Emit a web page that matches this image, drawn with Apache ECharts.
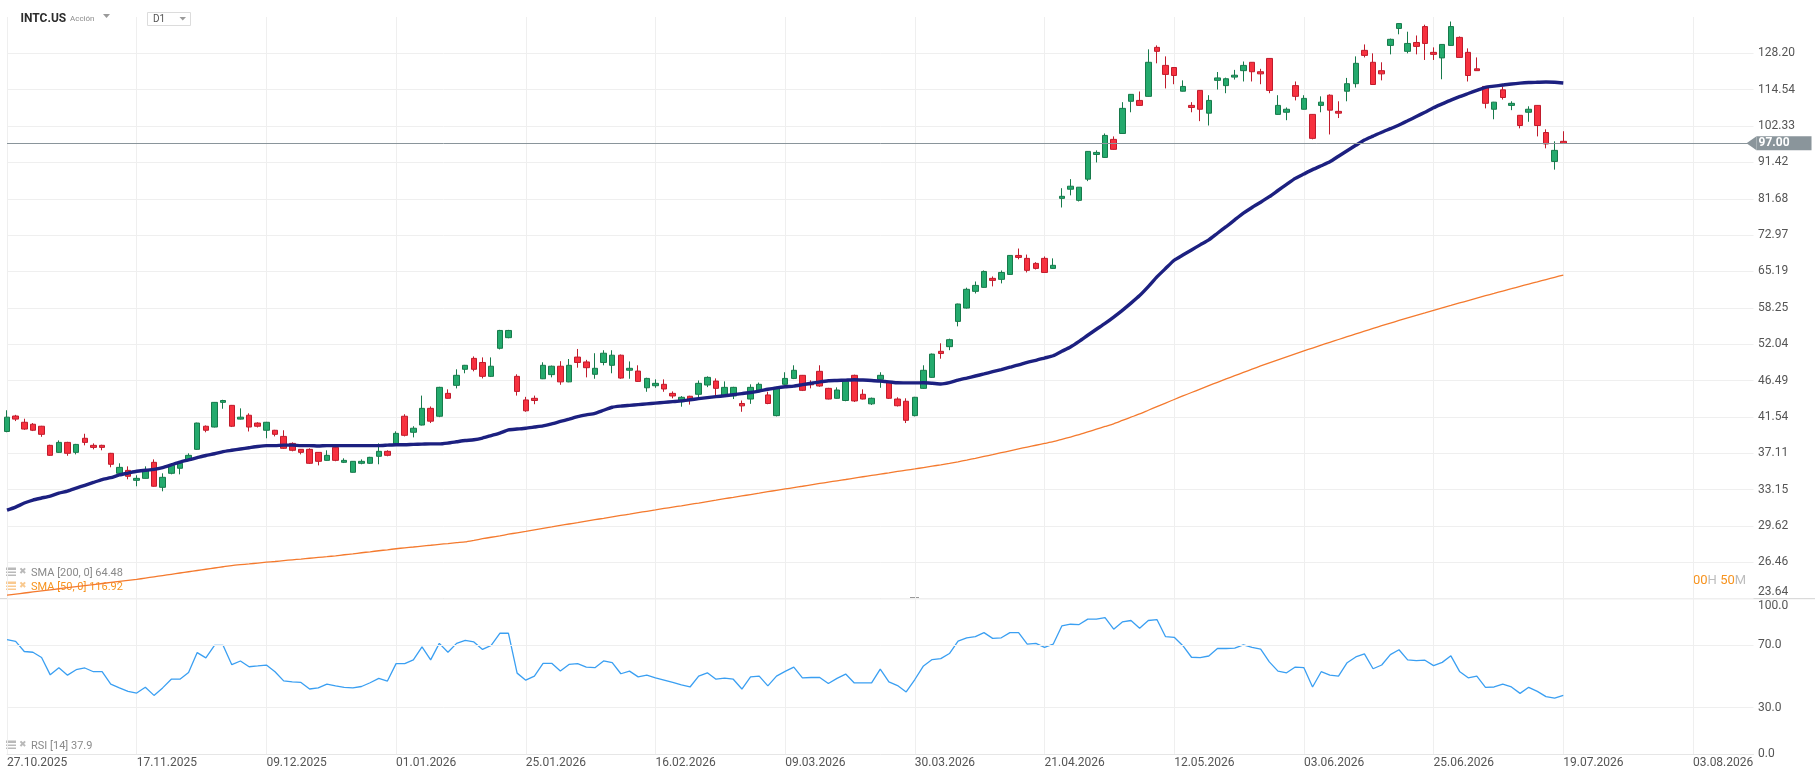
<!DOCTYPE html>
<html>
<head>
<meta charset="utf-8">
<title>INTC.US D1</title>
<script src="https://cdn.jsdelivr.net/npm/echarts@6/dist/echarts.min.js"></script>
<style>
  html, body { margin: 0; padding: 0; background: #fff; }
  #chart { width: 1818px; height: 779px; }
</style>
</head>
<body>
<div id="chart"></div>
<script>
// --- labels ---
const DATE_LABELS = ['27.10.2025', '17.11.2025', '09.12.2025', '01.01.2026', '25.01.2026', '16.02.2026', '09.03.2026',
  '30.03.2026', '21.04.2026', '12.05.2026', '03.06.2026', '25.06.2026', '19.07.2026', '03.08.2026'];
const PRICE_TICKS = ['23.64', '26.46', '29.62', '33.15', '37.11', '41.54', '46.49', '52.04', '58.25', '65.19',
  '72.97', '81.68', '91.42', '102.33', '114.54', '128.20'];
const RSI_TICKS = [0, 30, 70, 100];
const LAST_PRICE = 97.00;

// --- daily candles (one per bar) ---
const OPEN = [
  39.7, 41.65, 40.85, 40.6, 40.35, 38.03, 37.21, 38.38, 37.21, 38.87,
  38.03, 38.03, 37.1, 34.87, 35.19, 34.12, 34.33, 36.08, 33.39, 34.87,
  35.42, 36.3, 37.56, 40.35, 40.25, 43.45, 43.05, 41.25, 41.75, 40.75,
  39.85, 39.85, 39.1, 38.26, 37.56, 37.56, 37.21, 36.3, 37.79, 36.08,
  34.98, 35.97, 35.97, 36.76, 37.33, 38.03, 41.62, 39.6, 40.5, 42.65,
  41.62, 44.68, 45.8, 48.14, 49.8, 49.17, 47.1, 51.38, 53.1, 47.1,
  43.78, 44.0, 46.75, 47.35, 48.6, 46.3, 50.0, 49.25, 47.4, 49.17,
  48.74, 50.29, 48.0, 47.88, 45.46, 45.75, 45.95, 44.68, 43.55, 44.28,
  44.55, 45.85, 46.42, 44.32, 44.32, 43.3, 43.9, 45.15, 44.46, 41.7,
  45.95, 46.8, 47.25, 46.2, 47.84, 45.38, 44.0, 43.7, 47.25, 44.55,
  43.25, 46.66, 46.3, 43.9, 43.6, 41.7, 45.38, 46.95, 50.9, 51.64,
  55.85, 58.2, 61.3, 62.06, 63.82, 63.62, 64.6, 68.52, 67.9, 66.85,
  67.9, 65.82, 81.78, 84.13, 81.28, 86.8, 93.7, 92.85, 98.19, 100.0,
  110.5, 110.8, 112.2, 130.6, 123.5, 122.7, 114.0, 109.1, 114.3, 106.5,
  117.9, 116.0, 119.1, 121.5, 124.7, 121.1, 126.2, 106.1, 106.8, 116.0,
  107.8, 106.1, 109.1, 112.6, 107.1, 114.0, 116.7, 129.4, 124.7, 121.5,
  131.4, 138.5, 129.0, 132.6, 139.3, 128.6, 126.4, 131.4, 134.7, 128.6,
  122.2, 115.7, 107.8, 114.5, 109.1, 105.8, 106.8, 109.1, 100.3, 91.7,
  97.6
];
const CLOSE = [
  41.5, 41.25, 40.0, 39.85, 39.35, 36.87, 38.38, 37.1, 38.14, 38.38,
  37.79, 37.79, 35.86, 35.52, 34.55, 34.33, 35.19, 33.5, 34.44, 35.74,
  35.97, 36.87, 40.75, 39.85, 43.45, 43.7, 40.35, 41.5, 40.25, 40.35,
  40.85, 39.35, 37.68, 37.45, 37.21, 35.97, 36.19, 36.87, 36.3, 36.3,
  36.19, 36.19, 36.64, 37.33, 36.87, 39.47, 39.23, 40.1, 42.65, 40.99,
  45.52, 44.0, 47.25, 48.74, 48.14, 47.1, 48.6, 54.3, 54.3, 44.95,
  42.33, 43.7, 48.74, 48.6, 46.3, 48.74, 49.17, 48.38, 48.29, 50.6,
  50.29, 46.85, 48.29, 46.37, 46.8, 46.09, 45.29, 44.32, 44.14, 43.7,
  46.09, 46.95, 45.38, 45.52, 45.52, 42.98, 45.52, 45.95, 43.3, 45.52,
  46.8, 47.99, 45.1, 45.88, 45.71, 43.9, 45.15, 46.37, 43.64, 43.9,
  44.0, 47.25, 44.0, 43.0, 41.1, 44.14, 47.99, 50.46, 50.55, 52.77,
  58.94, 61.69, 62.44, 65.2, 63.42, 65.0, 68.52, 68.1, 65.42, 65.82,
  65.0, 66.45, 82.3, 84.92, 84.66, 94.6, 94.3, 99.4, 95.2, 108.1,
  112.9, 109.1, 124.7, 129.0, 120.1, 119.7, 115.7, 108.4, 107.8, 110.8,
  118.8, 118.5, 119.8, 123.5, 121.1, 120.3, 114.3, 109.1, 107.8, 112.2,
  111.5, 98.5, 110.2, 107.5, 106.5, 116.7, 124.3, 127.4, 116.4, 120.3,
  133.9, 140.6, 132.2, 131.0, 132.2, 127.8, 131.8, 139.3, 126.6, 119.7,
  121.5, 109.8, 110.2, 111.8, 109.8, 102.5, 107.8, 102.5, 96.8, 94.9,
  97.0
];
const LOW = [
  39.6, 41.0, 39.9, 39.75, 39.05, 36.8, 37.15, 36.82, 36.98, 38.03,
  37.56, 37.45, 35.53, 34.8, 34.23, 33.5, 34.3, 33.45, 32.98, 34.76,
  34.76, 36.25, 37.5, 39.6, 40.2, 42.6, 40.25, 41.2, 39.7, 40.2,
  38.87, 39.1, 37.6, 37.33, 36.98, 35.9, 35.74, 36.25, 36.2, 36.0,
  34.95, 35.86, 35.9, 35.86, 36.76, 37.95, 39.1, 38.98, 40.45, 40.75,
  41.5, 43.95, 45.37, 47.55, 47.84, 46.8, 47.0, 51.2, 53.0, 44.37,
  42.2, 43.2, 46.7, 46.95, 45.88, 46.25, 48.38, 46.95, 46.75, 48.74,
  47.55, 46.75, 46.75, 46.3, 44.9, 45.46, 44.9, 44.0, 42.87, 43.15,
  43.85, 45.55, 44.28, 44.2, 43.9, 42.2, 43.25, 45.1, 43.2, 41.6,
  45.9, 46.7, 45.0, 45.38, 45.6, 43.85, 43.95, 43.6, 43.5, 43.85,
  43.1, 45.46, 43.9, 42.9, 40.75, 41.6, 45.3, 46.9, 49.75, 51.08,
  55.0, 58.1, 60.9, 62.0, 62.25, 62.83, 64.5, 67.7, 65.0, 65.6,
  64.95, 65.75, 79.5, 82.55, 81.0, 86.27, 91.42, 92.7, 95.1, 99.9,
  106.8, 109.0, 112.1, 124.3, 115.0, 116.5, 113.9, 106.8, 103.9, 102.5,
  114.6, 113.3, 118.2, 117.5, 117.5, 116.5, 113.3, 106.0, 104.2, 110.8,
  107.7, 98.2, 106.8, 99.7, 104.9, 110.5, 115.3, 126.6, 116.3, 117.9,
  127.8, 136.0, 128.2, 127.8, 125.6, 125.6, 118.3, 131.3, 126.5, 117.5,
  121.4, 108.1, 104.5, 111.1, 107.5, 101.6, 103.7, 99.1, 95.5, 89.4,
  96.9
];
const HIGH = [
  42.4, 41.8, 41.3, 40.75, 40.4, 38.1, 38.62, 38.45, 38.2, 39.42,
  38.26, 38.1, 37.15, 35.97, 35.63, 34.66, 35.63, 36.41, 34.87, 35.8,
  36.0, 37.1, 40.8, 40.45, 43.5, 43.8, 43.1, 42.65, 42.0, 40.85,
  40.9, 39.9, 39.85, 38.38, 37.6, 37.68, 37.25, 37.45, 38.03, 36.53,
  36.2, 36.41, 36.7, 38.26, 37.45, 39.72, 41.88, 40.35, 44.37, 42.9,
  45.6, 45.24, 48.14, 48.8, 50.1, 49.95, 49.95, 54.4, 54.4, 47.4,
  44.2, 44.37, 49.2, 48.7, 49.37, 49.7, 51.27, 49.57, 50.6, 51.07,
  51.07, 50.4, 49.33, 48.74, 46.9, 46.66, 46.66, 44.95, 44.3, 44.35,
  46.5, 47.1, 46.8, 46.37, 45.6, 43.7, 45.95, 46.2, 44.9, 45.6,
  47.7, 48.74, 47.3, 46.52, 48.74, 45.45, 45.52, 46.45, 47.35, 45.24,
  44.1, 47.7, 46.4, 44.14, 44.0, 44.2, 48.74, 50.55, 52.18, 52.94,
  59.0, 62.0, 63.2, 65.4, 64.2, 65.4, 68.6, 70.0, 68.7, 67.1,
  68.3, 67.9, 84.4, 86.8, 84.7, 94.7, 94.9, 100.0, 99.1, 110.2,
  113.0, 113.9, 129.8, 131.4, 127.0, 122.9, 117.9, 110.2, 114.4, 112.6,
  121.0, 118.9, 121.8, 125.0, 124.8, 122.2, 126.3, 112.6, 108.4, 117.5,
  112.6, 106.2, 112.2, 112.9, 110.5, 118.8, 127.0, 131.8, 128.2, 124.7,
  134.2, 140.8, 137.1, 135.5, 140.1, 130.6, 131.9, 141.5, 135.1, 130.2,
  126.6, 115.8, 110.3, 115.7, 110.5, 105.9, 108.8, 109.2, 101.3, 97.6,
  100.7
];

// --- indicators ---
const SMA_50 = [
  31.1, 31.4, 31.8, 32.1, 32.3, 32.5, 32.8, 33.0, 33.3, 33.6, 33.9,
  34.2, 34.4, 34.7, 34.9, 35.1, 35.2, 35.3, 35.5, 35.8, 36.1,
  36.35, 36.6, 36.85, 37.05, 37.3, 37.45, 37.6, 37.75, 37.9, 38.0,
  38.0, 38.05, 38.05, 38.0, 38.0, 37.95, 38.0, 38.0, 38.0, 38.0, 38.0, 38.0, 38.0, 38.05, 38.1,
  38.1, 38.15, 38.17, 38.2, 38.2, 38.3, 38.45, 38.6, 38.7, 38.9, 39.2, 39.5, 39.9, 40.0,
  40.1, 40.25, 40.4, 40.65, 40.95, 41.25, 41.57, 41.8, 42.0, 42.4, 42.8, 42.95, 43.05, 43.15, 43.25,
  43.35, 43.45, 43.55, 43.65, 43.8, 43.95, 44.1, 44.23, 44.35, 44.5, 44.65, 44.8, 45.0, 45.25, 45.45, 45.6,
  45.7, 45.9, 46.1, 46.3, 46.46, 46.5, 46.55, 46.6, 46.56, 46.5, 46.4, 46.3, 46.17, 46.15, 46.15, 46.17, 46.1, 46.0, 46.2, 46.56,
  46.85, 47.15, 47.45, 47.78, 48.1, 48.45, 48.8, 49.2, 49.5, 49.85, 50.2, 50.9, 51.6, 52.5, 53.5,
  54.5, 55.5, 56.6, 57.8, 59.1, 60.5, 62.2, 64.1, 65.8, 67.5, 68.6, 69.7, 70.8, 71.9, 73.4,
  74.9, 76.5, 78.1, 79.5, 80.8, 82.2, 83.8, 85.4, 87.0, 88.2, 89.4, 90.5, 91.6, 93.2, 94.8, 96.4, 98.0, 99.2, 100.4, 101.5,
  102.65, 104.0, 105.4, 106.8, 108.3, 109.6, 110.9, 112.1, 113.2, 114.3, 115.4, 115.8, 116.2, 116.6, 116.9, 117.1, 117.2, 117.3, 117.2, 116.92
];
const SMA_200 = [
  23.9, 23.98, 24.06, 24.14, 24.22, 24.3, 24.38, 24.46, 24.54, 24.62, 24.7, 24.78, 24.86, 24.94, 25.02, 25.1,
  25.2, 25.3, 25.4, 25.5, 25.6, 25.7, 25.8, 25.9, 26.0, 26.1, 26.2,
  26.27, 26.33, 26.4, 26.47, 26.53, 26.6, 26.67, 26.73, 26.8, 26.87, 26.93, 27.0,
  27.09, 27.17, 27.26, 27.34, 27.43, 27.51, 27.6,
  27.68, 27.75, 27.83, 27.9, 27.98, 28.05, 28.13, 28.2,
  28.33, 28.47, 28.6, 28.73, 28.87, 29.0, 29.13, 29.27, 29.4, 29.53, 29.67, 29.8, 29.93, 30.07,
  30.2, 30.33, 30.47, 30.6, 30.73, 30.87, 31.0, 31.13, 31.27, 31.4, 31.53, 31.67, 31.8,
  31.94, 32.08, 32.23, 32.37, 32.51, 32.65, 32.79, 32.94, 33.08, 33.22, 33.36, 33.5, 33.65,
  33.79, 33.93, 34.07, 34.21, 34.36, 34.5, 34.64, 34.78, 34.92, 35.07, 35.21, 35.35, 35.5,
  35.65, 35.8, 35.96, 36.14, 36.33, 36.53, 36.74, 36.95, 37.17, 37.39, 37.61, 37.83, 38.04, 38.25, 38.46,
  38.74, 39.02, 39.3, 39.64, 39.98, 40.32, 40.66, 41.08, 41.5, 41.92,
  42.4, 42.88, 43.36, 43.84, 44.32, 44.8, 45.28, 45.76, 46.24, 46.72, 47.2, 47.68, 48.16, 48.64, 49.12,
  49.58, 50.04, 50.5, 50.96, 51.42, 51.88, 52.34, 52.8, 53.26, 53.72, 54.18, 54.64, 55.1, 55.56,
  56.01, 56.45, 56.9, 57.34, 57.79, 58.24, 58.68, 59.13, 59.57, 60.02, 60.47, 60.91, 61.36, 61.8, 62.25, 62.7, 63.14, 63.59, 64.03, 64.48
];
const RSI_14 = [
  73.7, 72.6, 66.1, 65.6, 62.2, 51.1, 55.7, 50.9, 54.4, 55.5,
  53.1, 53.1, 45.1, 42.7, 40.5, 39.4, 43.1, 37.9, 42.7, 48.3,
  48.3, 52.6, 65.4, 62.0, 70.0, 70.0, 57.6, 60.0, 56.3, 56.8,
  57.4, 53.1, 47.2, 46.6, 46.2, 42.0, 42.7, 45.1, 44.0, 43.1,
  42.7, 43.6, 46.0, 48.8, 47.1, 58.3, 58.3, 60.7, 69.1, 60.7,
  71.3, 65.6, 71.3, 73.2, 72.2, 67.4, 70.0, 77.8, 77.8, 52.2,
  47.7, 50.3, 58.5, 58.5, 53.5, 57.8, 58.3, 56.1, 55.7, 60.0,
  58.9, 51.8, 53.5, 49.8, 50.9, 49.2, 47.7, 46.2, 44.6, 43.3,
  50.3, 52.4, 48.3, 49.0, 48.3, 42.0, 49.8, 50.3, 44.0, 50.3,
  53.3, 56.1, 49.2, 49.4, 49.4, 45.5, 48.8, 51.6, 45.9, 45.9,
  45.9, 54.8, 46.6, 44.2, 40.1, 48.1, 56.8, 60.9, 61.5, 64.8,
  72.8, 74.9, 75.6, 78.2, 74.5, 74.9, 78.2, 78.2, 70.8, 71.3,
  68.7, 70.8, 82.5, 83.6, 83.4, 86.9, 86.9, 87.9, 80.4, 85.1,
  86.0, 81.0, 86.0, 86.6, 75.6, 75.2, 69.8, 62.4, 62.2, 63.2,
  68.0, 68.0, 68.2, 70.4, 68.7, 67.6, 59.4, 53.5, 52.4, 56.1,
  55.7, 43.3, 53.1, 50.9, 50.3, 58.9, 62.6, 64.6, 55.0, 57.4,
  64.1, 67.2, 60.7, 60.2, 60.5, 57.0, 59.1, 63.3, 53.3, 49.2,
  50.3, 43.1, 43.3, 45.1, 43.3, 39.2, 43.1, 40.5, 37.1, 36.2,
  37.9
];

// --- colores ---
const THEME = {
  up: '#24aa6d',
  upBorder: '#177a4b',
  down: '#f7313f',
  downBorder: '#c01b2c',
  sma50: '#1c2080',
  sma200: '#f47a2e',
  rsi: '#3a9ff2',
  grid: '#efefef',
  text: '#555555',
  priceTag: '#8a959b'
};

const BAR_SLOTS = 203;   // barras + zona vacía a la derecha
const LABEL_EVERY = 15;  // una fecha cada 15 barras

// eje logarítmico: precio -> pasos entre las marcas de PRICE_TICKS
const LOG_BASE = Number(PRICE_TICKS[0]);
const LOG_STEP = Math.log(Number(PRICE_TICKS[15]) / LOG_BASE) / 15;
const toStep = p => Math.log(p / LOG_BASE) / LOG_STEP;

const slots = Array.from({ length: BAR_SLOTS }, (_, i) => String(i));
const candles = OPEN.map((o, i) => [toStep(o), toStep(CLOSE[i]), toStep(LOW[i]), toStep(HIGH[i])]);

const FONT = 'Roboto, "Noto Sans", sans-serif';
const gridLeft = 7;
const gridRight = 64.5;

const chart = echarts.init(document.getElementById('chart'));

chart.setOption({
  animation: false,
  backgroundColor: '#ffffff',
  textStyle: { fontFamily: FONT },
  grid: [
    { left: gridLeft, right: gridRight, top: 17, height: 581.7, outerBoundsMode: 'none' },
    { left: gridLeft, right: gridRight, top: 598.7, height: 155.7, outerBoundsMode: 'none' }
  ],
  xAxis: [
    {
      type: 'category', gridIndex: 0, data: slots, boundaryGap: false,
      axisLine: { show: false }, axisTick: { show: false }, axisLabel: { show: false },
      splitLine: { show: true, interval: LABEL_EVERY - 1, lineStyle: { color: THEME.grid, width: 1 } }
    },
    {
      type: 'category', gridIndex: 1, data: slots, boundaryGap: false,
      axisLine: { show: true, lineStyle: { color: '#e6e6e6' } },
      axisTick: { show: false },
      axisLabel: {
        interval: LABEL_EVERY - 1, align: 'left', margin: 3,
        color: THEME.text, fontSize: 12, fontFamily: FONT,
        formatter: (v, idx) => (idx % LABEL_EVERY === 0 ? (DATE_LABELS[idx / LABEL_EVERY] || '') : '')
      },
      splitLine: { show: true, interval: LABEL_EVERY - 1, lineStyle: { color: THEME.grid, width: 1 } }
    }
  ],
  yAxis: [
    {
      type: 'value', gridIndex: 0, position: 'right', min: 0, max: 16, interval: 1,
      axisLine: { show: false }, axisTick: { show: false },
      splitLine: { show: true, showMaxLine: false, lineStyle: { color: THEME.grid, width: 1 } },
      axisLabel: {
        margin: 4.5, color: THEME.text, fontSize: 12, fontFamily: FONT, showMaxLabel: false,
        formatter: v => {
          const k = Math.round(v);
          if (Math.abs(v - k) > 1e-6 || k > 15) return '';
          return k === 0 ? '{low|' + PRICE_TICKS[0] + '}' : PRICE_TICKS[k];
        },
        rich: { low: { padding: [0, 0, 14, 0], color: THEME.text, fontSize: 12, fontFamily: FONT } }
      }
    },
    {
      type: 'value', gridIndex: 1, position: 'right', min: 0, max: 100, interval: 10,
      axisLine: { show: false }, axisTick: { show: false }, splitLine: { show: false },
      axisLabel: {
        margin: 4.5, color: THEME.text, fontSize: 12, fontFamily: FONT,
        formatter: v => {
          if (!RSI_TICKS.includes(v)) return '';
          return v === 100 ? '{top|100.0}' : v.toFixed(1);
        },
        rich: { top: { padding: [14, 0, 0, 0], color: THEME.text, fontSize: 12, fontFamily: FONT } }
      }
    }
  ],
  series: [
    {
      name: 'INTC.US',
      type: 'candlestick',
      xAxisIndex: 0, yAxisIndex: 0,
      data: candles,
      barWidth: 6,
      clip: false,
      z: 2,
      itemStyle: {
        color: THEME.up, color0: THEME.down,
        borderColor: THEME.upBorder, borderColor0: THEME.downBorder,
        borderWidth: 1
      },
      markLine: {
        silent: true,
        symbol: ['none', 'none'],
        data: [{ yAxis: toStep(LAST_PRICE) }],
        lineStyle: { color: THEME.priceTag, width: 1, type: 'solid' },
        label: {
          show: true, position: 'end', distance: 3,
          formatter: LAST_PRICE.toFixed(2),
          backgroundColor: THEME.priceTag, color: '#ffffff',
          fontSize: 12, fontWeight: 'bold', fontFamily: FONT,
          padding: [1, 22, 0, 2], lineHeight: 13
        }
      },
      markPoint: {
        silent: true,
        symbol: 'path://M10,0 L0,5 L10,10 Z',
        symbolSize: [10, 14],
        symbolOffset: [-2, 0],
        itemStyle: { color: THEME.priceTag },
        label: { show: false },
        data: [{ coord: [BAR_SLOTS - 1, toStep(LAST_PRICE)] }]
      }
    },
    {
      name: 'SMA 200',
      type: 'line',
      xAxisIndex: 0, yAxisIndex: 0,
      data: SMA_200.map(toStep),
      showSymbol: false,
      smooth: 0.2,
      z: 3,
      lineStyle: { color: THEME.sma200, width: 1.3 }
    },
    {
      name: 'SMA 50',
      type: 'line',
      xAxisIndex: 0, yAxisIndex: 0,
      data: SMA_50.map(toStep),
      showSymbol: false,
      smooth: 0.2,
      z: 4,
      lineStyle: { color: THEME.sma50, width: 3.4 }
    },
    {
      name: 'RSI 14',
      type: 'line',
      xAxisIndex: 1, yAxisIndex: 1,
      data: RSI_14,
      showSymbol: false,
      z: 3,
      lineStyle: { color: THEME.rsi, width: 1.3 },
      markLine: {
        silent: true,
        symbol: ['none', 'none'],
        label: { show: false },
        lineStyle: { color: THEME.grid, width: 1, type: 'solid' },
        data: [{ yAxis: 30 }, { yAxis: 70 }]
      }
    }
  ],
  graphic: [
    // cabecera
    { type: 'text', x: 20.5, y: 18.5, style: { text: 'INTC.US', font: 'bold 12px ' + FONT, fill: '#2d2d2d', verticalAlign: 'middle' } },
    { type: 'text', x: 70, y: 19, style: { text: 'Acción', font: '8px ' + FONT, fill: '#8c8c8c', verticalAlign: 'middle' } },
    { type: 'polygon', shape: { points: [[103, 14], [110, 14], [106.5, 18]] }, style: { fill: '#9a9a9a' } },
    { type: 'rect', shape: { x: 147.5, y: 12.5, width: 43, height: 13 }, style: { fill: '#ffffff', stroke: '#dcdcdc', lineWidth: 1 } },
    { type: 'text', x: 153, y: 19.5, style: { text: 'D1', font: '10px ' + FONT, fill: '#555555', verticalAlign: 'middle' } },
    { type: 'polygon', shape: { points: [[179.5, 17], [186, 17], [182.75, 20.5]] }, style: { fill: '#9a9a9a' } },
    // separador entre paneles
    { type: 'line', shape: { x1: 0, y1: 598.7, x2: 1815, y2: 598.7 }, style: { stroke: '#d2d2d2', lineWidth: 1 } },
    { type: 'rect', shape: { x: 910, y: 597, width: 9, height: 2 }, style: { fill: '#9a9a9a' } },
    // leyendas de indicadores
    { type: 'rect', shape: { x: 6, y: 567.5, width: 10, height: 2.5 }, style: { fill: '#b9b9b9' } },
    { type: 'rect', shape: { x: 6, y: 571.5, width: 10, height: 1.5 }, style: { fill: '#b9b9b9' } },
    { type: 'rect', shape: { x: 6, y: 574.5, width: 10, height: 1.5 }, style: { fill: '#b9b9b9' } },
    { type: 'text', x: 19, y: 572, style: { text: '✖', font: '9px "DejaVu Sans"', fill: '#b9b9b9', verticalAlign: 'middle' } },
    { type: 'text', x: 31, y: 573.3, style: { text: 'SMA [200, 0] 64.48', font: '11px ' + FONT, fill: '#8a8a8a', verticalAlign: 'middle' } },
    { type: 'rect', shape: { x: 6, y: 581.5, width: 10, height: 2.5 }, style: { fill: '#f9c98f' } },
    { type: 'rect', shape: { x: 6, y: 585.5, width: 10, height: 1.5 }, style: { fill: '#f9c98f' } },
    { type: 'rect', shape: { x: 6, y: 588.5, width: 10, height: 1.5 }, style: { fill: '#f9c98f' } },
    { type: 'text', x: 19, y: 586, style: { text: '✖', font: '9px "DejaVu Sans"', fill: '#f9c98f', verticalAlign: 'middle' } },
    { type: 'text', x: 31, y: 587.3, style: { text: 'SMA [50, 0] 116.92', font: '11px ' + FONT, fill: '#f7931e', verticalAlign: 'middle' } },
    { type: 'rect', shape: { x: 6, y: 740.5, width: 10, height: 2.5 }, style: { fill: '#b9b9b9' } },
    { type: 'rect', shape: { x: 6, y: 744.5, width: 10, height: 1.5 }, style: { fill: '#b9b9b9' } },
    { type: 'rect', shape: { x: 6, y: 747.5, width: 10, height: 1.5 }, style: { fill: '#b9b9b9' } },
    { type: 'text', x: 19, y: 745, style: { text: '✖', font: '9px "DejaVu Sans"', fill: '#b9b9b9', verticalAlign: 'middle' } },
    { type: 'text', x: 31, y: 746, style: { text: 'RSI [14] 37.9', font: '11px ' + FONT, fill: '#8a8a8a', verticalAlign: 'middle' } },
    // cuenta atrás de la vela
    {
      type: 'text', x: 1693, y: 581,
      style: {
        text: '{o|00}{g|H} {o|50}{g|M}', verticalAlign: 'middle',
        rich: {
          o: { fill: '#f7931e', font: '13px ' + FONT },
          g: { fill: '#bdbdbd', font: '13px ' + FONT }
        }
      }
    }
  ]
});

window.addEventListener('resize', () => chart.resize());
</script>
</body>
</html>
